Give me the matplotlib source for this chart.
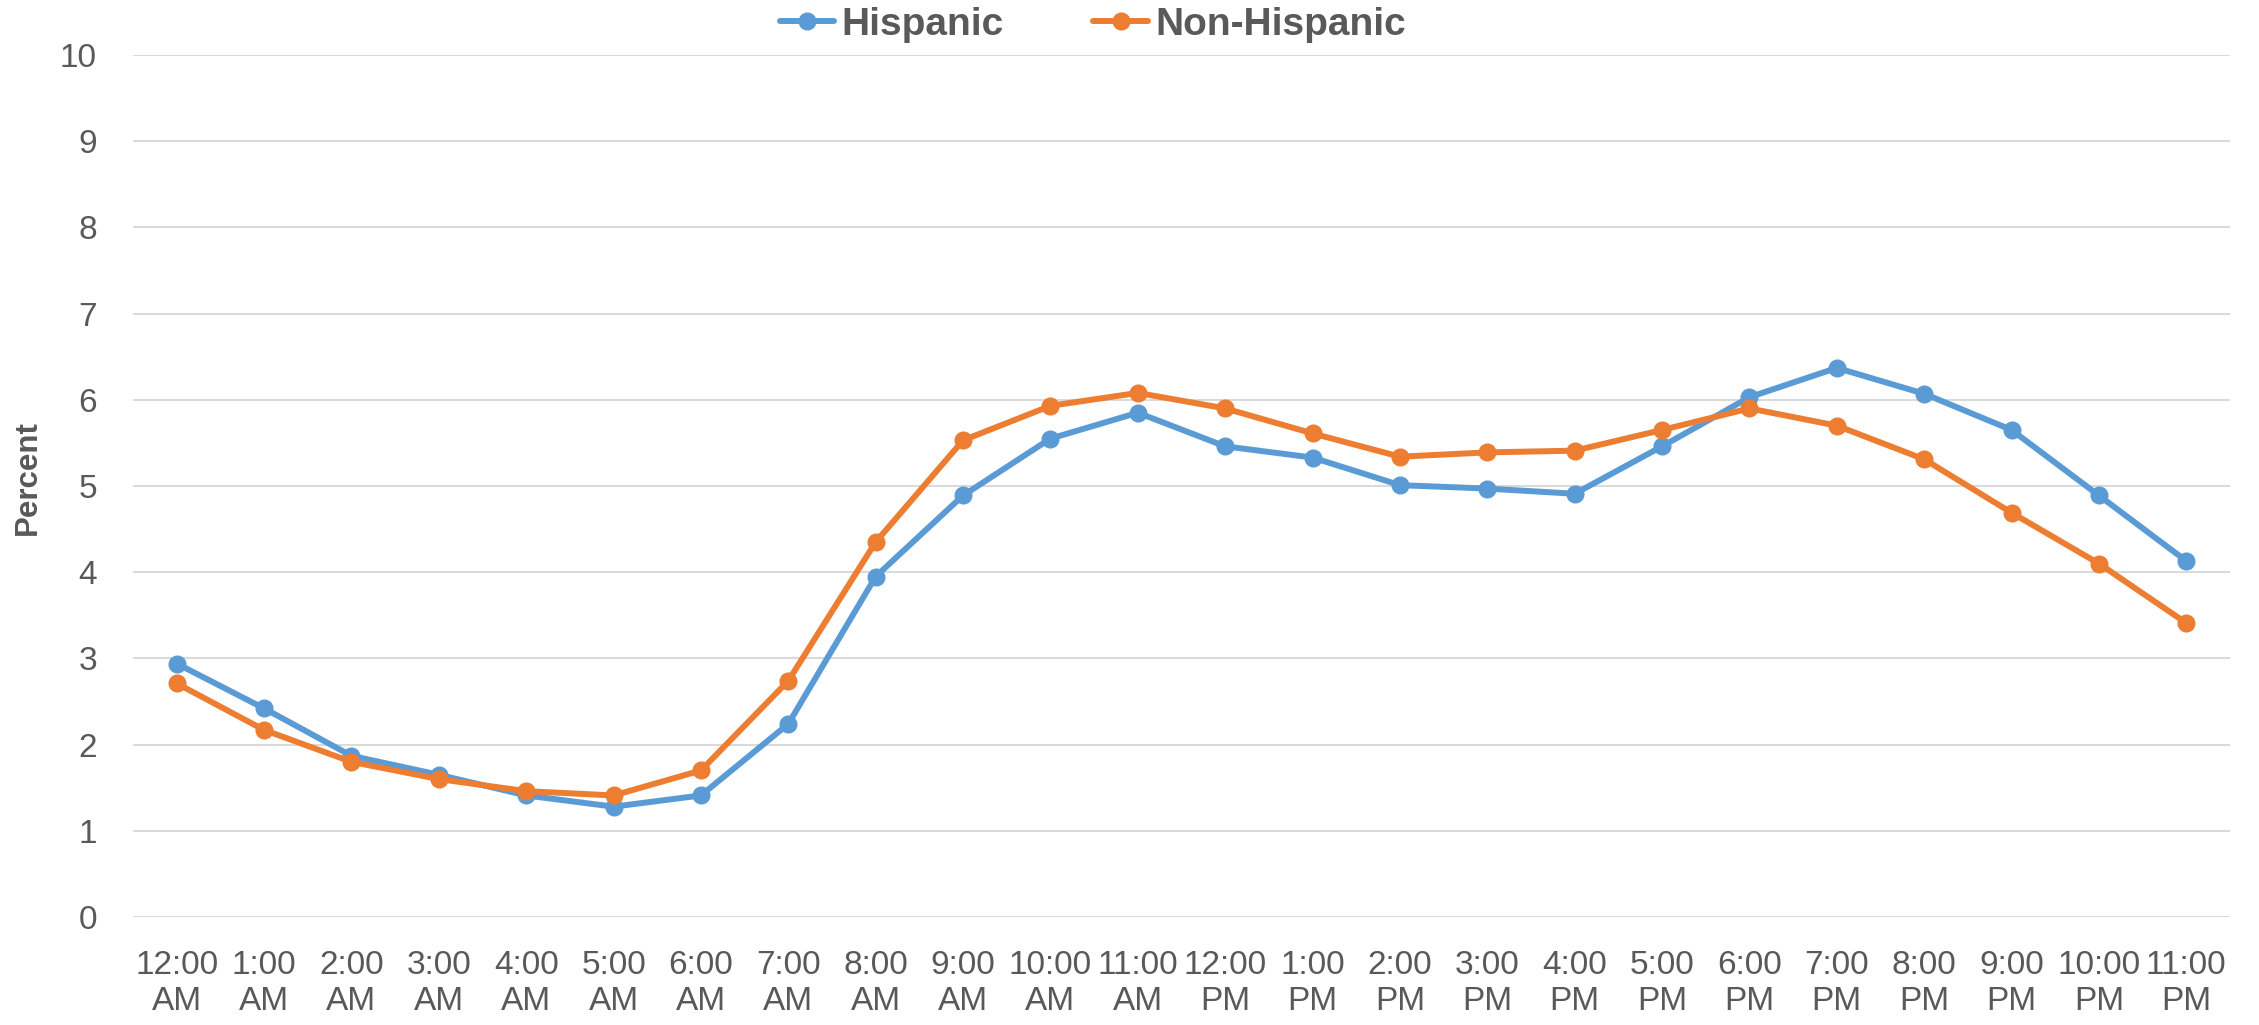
import matplotlib
matplotlib.use("Agg")
import matplotlib.pyplot as plt

hours = ["12:00\nAM", "1:00\nAM", "2:00\nAM", "3:00\nAM", "4:00\nAM", "5:00\nAM",
         "6:00\nAM", "7:00\nAM", "8:00\nAM", "9:00\nAM", "10:00\nAM", "11:00\nAM",
         "12:00\nPM", "1:00\nPM", "2:00\nPM", "3:00\nPM", "4:00\nPM", "5:00\nPM",
         "6:00\nPM", "7:00\nPM", "8:00\nPM", "9:00\nPM", "10:00\nPM", "11:00\nPM"]
hispanic = [2.94, 2.42, 1.87, 1.65, 1.41, 1.28, 1.41, 2.24, 3.95, 4.89, 5.55, 5.85,
            5.46, 5.33, 5.01, 4.97, 4.91, 5.46, 6.03, 6.37, 6.07, 5.65, 4.89, 4.13]
non_hispanic = [2.71, 2.17, 1.80, 1.60, 1.46, 1.41, 1.70, 2.74, 4.35, 5.53, 5.93, 6.08,
                5.90, 5.61, 5.34, 5.39, 5.41, 5.65, 5.90, 5.70, 5.31, 4.69, 4.10, 3.41]
yticks = list(range(0, 11))

plt.rcParams['font.family'] = ['Liberation Sans', 'DejaVu Sans']
txt = '#595959'

fig = plt.figure(figsize=(22.59, 10.25), dpi=100)
ax = fig.add_axes([133/2259, 1-917/1025, (2230-133)/2259, (917-55)/1025])

x = list(range(len(hours)))
ax.plot(x, hispanic, color='#5B9BD5', lw=4.3, marker='o', ms=12, label='Hispanic',
        solid_joinstyle='round', solid_capstyle='round')
ax.plot(x, non_hispanic, color='#ED7D31', lw=4.3, marker='o', ms=12, label='Non-Hispanic',
        solid_joinstyle='round', solid_capstyle='round')

ax.set_xlim(-0.5, len(hours) - 0.5)
ax.set_ylim(0, 10)
ax.set_yticks(yticks)
ax.set_yticklabels([str(v) for v in yticks])
ax.set_xticks(x)
ax.set_xticklabels(hours, linespacing=1.2)
ax.tick_params(axis='both', length=0, labelsize=24, colors=txt)
ax.tick_params(axis='x', pad=24)
ax.tick_params(axis='y', pad=26)
ax.grid(axis='y', color='#d9d9d9', lw=1.4)
ax.set_axisbelow(True)
for s in ax.spines.values():
    s.set_visible(False)

fig.text(28/2259, 1-478/1025, 'Percent', rotation=90, ha='center', va='center',
         fontsize=22.5, fontweight='bold', color=txt)

leg = fig.legend(loc='center', bbox_to_anchor=(1093/2259, 1-25/1025), ncol=2, frameon=False,
                 prop={'size': 28, 'weight': 'bold'}, handlelength=1.4, handletextpad=0.2,
                 columnspacing=2.3, borderpad=0, borderaxespad=0)
for t in leg.get_texts():
    t.set_color(txt)

fig.savefig('out.png', dpi=100, facecolor='white')
